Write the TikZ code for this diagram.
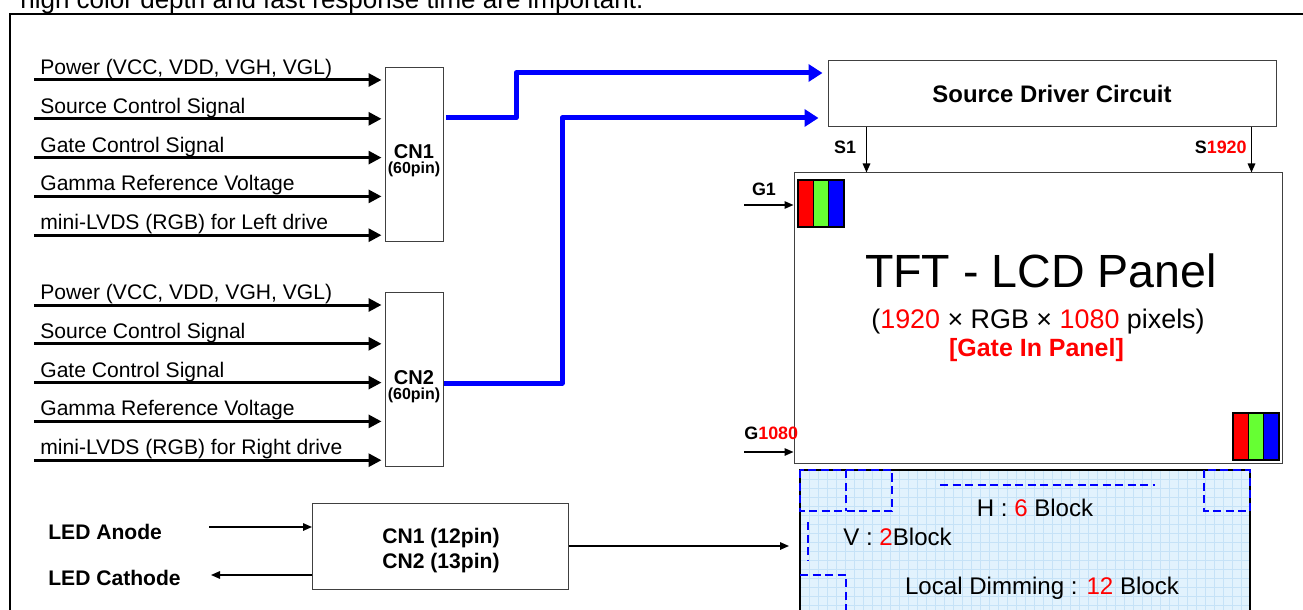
\documentclass[tikz,border=0pt]{standalone}
\usepackage{fontspec}
\setmainfont{Liberation Sans}
\usetikzlibrary{arrows.meta, positioning}

\definecolor{pixgreen}{RGB}{102,255,51}
\definecolor{blufill}{RGB}{226,242,253}
\definecolor{bluegrid}{RGB}{198,226,247}

\begin{document}
\begin{tikzpicture}[
    x=0.2mm, y=-0.2mm,
    cbox/.style={rectangle, draw=black!75, line width=0.2mm, fill=white, inner sep=0pt},
    siglabel/.style={anchor=base west, inner sep=0pt, font=\fontsize{12}{14}\selectfont},
    sigarrow/.style={-{Triangle[length=2.6mm, width=2.6mm]}, line width=0.6mm, shorten >=0.6mm},
    busarrow/.style={-{Triangle[length=2.8mm, width=3.4mm]}, line width=1mm, blue, line join=round},
    pinarrow/.style={-{Triangle[length=1.8mm, width=1.5mm]}, line width=0.3mm},
    pinlabel/.style={inner sep=0pt, font=\bfseries\fontsize{10.2}{12}\selectfont},
    txt/.style={anchor=base, inner sep=0pt},
    zone/.style={draw=blue, line width=0.4mm, dash pattern=on 1.6mm off 0.9mm}
]
\useasboundingbox (0,0) rectangle (1303,610);

% Page text and frame
\node[anchor=base west, inner sep=0pt, font=\fontsize{14.8}{17}\selectfont] (intro) at (20,9) {high color depth and fast response time are important.};
\draw[line width=0.4mm] (10,14) rectangle (1320,630);

% Connectors
\node[cbox, minimum width=11.6mm, minimum height=34.6mm] (cn1) at (414,154.5) {};
\node[txt, font=\bfseries\fontsize{11.4}{13}\selectfont] (cn1name) at (414,159) {CN1};
\node[txt, font=\bfseries\fontsize{9.1}{11}\selectfont] (cn1pin) at (414,174) {(60pin)};
\node[cbox, minimum width=11.6mm, minimum height=34.6mm] (cn2) at (414,379.5) {};
\node[txt, font=\bfseries\fontsize{11.4}{13}\selectfont] (cn2name) at (414,384) {CN2};
\node[txt, font=\bfseries\fontsize{9.1}{11}\selectfont] (cn2pin) at (414,399) {(60pin)};

% Input signals
\foreach \sig [count=\i from 0] in {{Power (VCC, VDD, VGH, VGL)}, {Source Control Signal}, {Gate Control Signal}, {Gamma Reference Voltage}, {mini-LVDS (RGB) for Left drive}} {
    \coordinate (ina\i) at (34,{80+38.8*\i});
    \node[siglabel] (siga\i) at (40,{74.5+38.8*\i}) {\sig};
    \draw[sigarrow] (ina\i) -- (ina\i -| cn1.west);
}
\foreach \sig [count=\i from 0] in {{Power (VCC, VDD, VGH, VGL)}, {Source Control Signal}, {Gate Control Signal}, {Gamma Reference Voltage}, {mini-LVDS (RGB) for Right drive}} {
    \coordinate (inb\i) at (34,{305+38.8*\i});
    \node[siglabel] (sigb\i) at (40,{299.5+38.8*\i}) {\sig};
    \draw[sigarrow] (inb\i) -- (inb\i -| cn2.west);
}

% Source driver and panel
\node[cbox, minimum width=89.6mm, minimum height=13.2mm, font=\bfseries\fontsize{13.6}{16}\selectfont] (sdc) at (1052,94) {Source Driver Circuit};
\node[cbox, minimum width=97.6mm, minimum height=58mm] (panel) at (1038,318) {};
\node[txt, font=\fontsize{26.5}{30}\selectfont] (title) at (1041,287) {TFT - LCD Panel};
\node[txt, font=\fontsize{15.3}{18}\selectfont] (res) at (1038,328) {(\textcolor{red}{1920} × RGB × \textcolor{red}{1080} pixels)};
\node[txt, font=\bfseries\fontsize{14.2}{17}\selectfont, text=red] (gip) at (1036.5,356) {[Gate In Panel]};

% Bus lines
\coordinate (bus1) at (446,118);
\coordinate (bend1) at (516,73);
\coordinate (bus2) at (444,383);
\coordinate (bend2) at (562,118);
\draw[busarrow] (bus1) -| (bend1) -- ([xshift=-1mm]sdc.west |- bend1);
\draw[busarrow] (bus2) -| (bend2) -- ([xshift=-1.8mm]sdc.west |- bend2);

% Source and gate lines
\draw[pinarrow] ([xshift=7.8mm]sdc.south west) -- ([xshift=7.8mm]sdc.south west |- panel.north);
\draw[pinarrow] ([xshift=-5mm]sdc.south east) -- ([xshift=-5mm]sdc.south east |- panel.north);
\node[pinlabel, anchor=base] (s1) at (845,153.5) {S1};
\node[pinlabel, anchor=base east] (s1920) at (1247,153.5) {S\textcolor{red}{1920}};
\coordinate (g1in) at (744,205);
\coordinate (gnin) at (744,452);
\draw[pinarrow] (g1in) -- (g1in -| panel.west);
\draw[pinarrow] (gnin) -- (gnin -| panel.west);
\node[pinlabel, anchor=base] (g1) at (764,195.5) {G1};
\node[pinlabel, anchor=base west] (g1080) at (744,439.5) {G\textcolor{red}{1080}};

% RGB pixels
\foreach \px/\py in {798/180, 1233/413} {
    \fill[red] (\px,\py) rectangle ++(15.3,47);
    \fill[pixgreen] ({\px+15.3},\py) rectangle ++(15.3,47);
    \fill[blue] ({\px+30.6},\py) rectangle ++(15.4,47);
    \draw[line width=0.3mm] (\px,\py) rectangle ++(46,47);
    \draw[line width=0.3mm] ({\px+15.3},\py) -- ++(0,47) ({\px+30.6},\py) -- ++(0,47);
}

% Backlight
\fill[blufill] (800,470) rectangle (1250,620);
\foreach \gx in {809,818,...,1249} \draw[bluegrid, line width=0.1mm] (\gx,470) -- (\gx,620);
\foreach \gy in {479,488,...,619} \draw[bluegrid, line width=0.1mm] (800,\gy) -- (1250,\gy);
\node[draw, line width=0.4mm, minimum width=90mm, minimum height=30mm, inner sep=0pt] (blu) at (1025,545) {};
\draw[zone] (800,470) rectangle (892,511);
\draw[zone] (846,470) -- (846,511);
\draw[zone] (940,485) -- (1155,485);
\draw[zone] (1204,470) rectangle (1250,511);
\draw[zone] (808,522) -- (808,560);
\draw[zone] (800,575) -- (846,575) -- (846,620);
\node[txt, font=\fontsize{13.7}{16}\selectfont] (hblk) at (1035,516.5) {H : \textcolor{red}{6} Block};
\node[txt, anchor=base west, font=\fontsize{13.7}{16}\selectfont] (vblk) at (843,545.5) {V : \textcolor{red}{2}Block};
\node[txt, font=\fontsize{13.7}{16}\selectfont] (ldim) at (1042,594.5) {Local Dimming : \textcolor{red}{12} Block};

% LED connector
\node[cbox, minimum width=51.2mm, minimum height=17.2mm] (ledcn) at (440.5,546) {};
\node[txt, font=\bfseries\fontsize{12}{14}\selectfont] (ledcn1) at (441,543.5) {CN1 (12pin)};
\node[txt, font=\bfseries\fontsize{12}{14}\selectfont] (ledcn2) at (441,568.5) {CN2 (13pin)};
\node[txt, anchor=base west, font=\bfseries\fontsize{12}{14}\selectfont] (anode) at (48,539.5) {LED Anode};
\node[txt, anchor=base west, font=\bfseries\fontsize{12}{14}\selectfont] (cathode) at (48,585.5) {LED Cathode};
\coordinate (anodein) at (209,527);
\coordinate (cathout) at (211,575);
\draw[pinarrow] (anodein) -- (anodein -| ledcn.west);
\draw[pinarrow] (cathout -| ledcn.west) -- (cathout);
\draw[pinarrow] (ledcn.east) -- ([xshift=-2mm]blu.west |- ledcn.east);

\end{tikzpicture}
\end{document}
